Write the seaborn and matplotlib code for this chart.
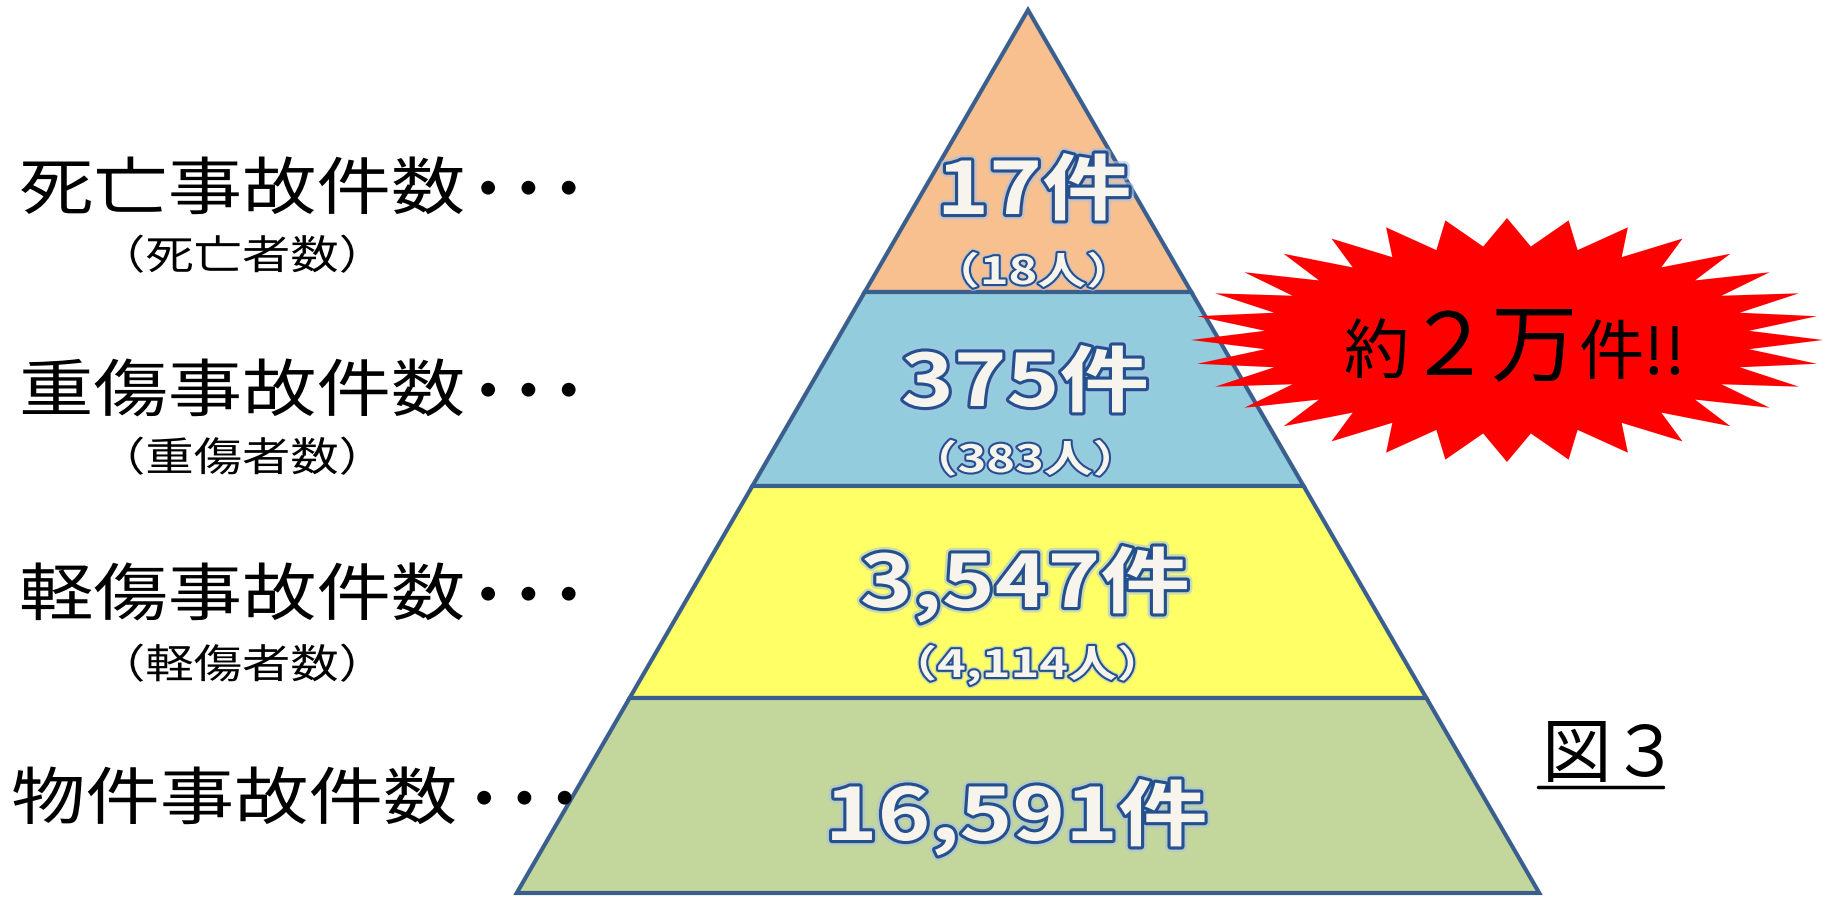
import matplotlib
matplotlib.use("Agg")
import matplotlib.pyplot as plt
import matplotlib.patheffects as pe
from matplotlib.patches import Polygon
from matplotlib.transforms import Affine2D
import seaborn as sns
import numpy as np

# データ
categories = ["死亡事故件数", "重傷事故件数", "軽傷事故件数", "物件事故件数"]
sub_labels = ["（死亡者数）", "（重傷者数）", "（軽傷者数）", None]
accident_counts = [17, 375, 3547, 16591]
person_counts = [18, 383, 4114, None]
tier_colors = ["#F9C08F", "#93CDDD", "#FFFF66", "#C3D69B"]

# レイアウト（ピクセル座標）
W, H = 1831, 897
apex = (1028, 10)
slope = 0.579
tier_bottoms = [292, 486, 698, 893]
label_x = [19, 19, 19, 11]
label_base = [209, 411, 615, 819]
dots_x = [468, 468, 468, 464]
sub_base = [269, 471, 678]
count_x = [1034, 1025, 1025, 1016]
count_base = [214, 406, 607, 840]
person_x = [1033, 1025, 1027]
person_base = [284, 472, 677]


class HStretch(pe.AbstractPathEffect):
    """横方向に引き伸ばして描く（元の画像は横長に伸びている）"""
    def __init__(self, inner, sx, x0):
        super().__init__()
        self.inner, self.sx, self.x0 = inner, sx, x0

    def draw_path(self, renderer, gc, tpath, affine, rgbFace=None):
        st = Affine2D().translate(-self.x0, 0).scale(self.sx, 1).translate(self.x0, 0)
        self.inner.draw_path(renderer, gc, tpath, affine + st, rgbFace)


def stretched(effects, sx, x0):
    return [HStretch(e, sx, x0) for e in effects]


def set_style():
    sns.set_theme(style="white")
    plt.rcParams['font.family'] = ['Noto Sans CJK JP', 'DejaVu Sans']


set_style()
fig = plt.figure(figsize=(W / 100, H / 100), dpi=100)
ax = fig.add_axes([0, 0, 1, 1])
ax.set_xlim(0, W)
ax.set_ylim(H, 0)
ax.axis("off")

# ピラミッド
top = apex[1]
for bottom, color in zip(tier_bottoms, tier_colors):
    hw_top = (top - apex[1]) * slope
    hw_bot = (bottom - apex[1]) * slope
    pts = [(apex[0] - hw_top, top), (apex[0] + hw_top, top),
           (apex[0] + hw_bot, bottom), (apex[0] - hw_bot, bottom)]
    ax.add_patch(Polygon(pts, closed=True, facecolor=color, edgecolor="#3A5F8E",
                         linewidth=3, joinstyle="miter", zorder=2))
    top = bottom

num_fx = [pe.Stroke(linewidth=8, foreground="#A9C3E4", alpha=0.6),
          pe.Stroke(linewidth=4.5, foreground="#24508F"), pe.Normal()]

for x, y, n in zip(count_x, count_base, accident_counts):
    ax.text(x, y, f"{n:,}件", ha="center", va="baseline", fontsize=52,
            fontweight="bold", color="#F6F4EC",
            path_effects=stretched(num_fx, 1.24, x), zorder=5)

sub_fx = [pe.Stroke(linewidth=5, foreground="#A9C3E4", alpha=0.6),
          pe.Stroke(linewidth=3, foreground="#24508F"), pe.Normal()]
for x, y, n in zip(person_x, person_base, person_counts):
    ax.text(x, y, f"（{n:,}人）", ha="center", va="baseline", fontsize=27,
            fontweight="bold", color="#F6F4EC",
            path_effects=stretched(sub_fx, 1.3, x), zorder=5)

# 左側のラベル
dot_fx = [pe.Stroke(linewidth=2.5, foreground="black"), pe.Normal()]
for i, label in enumerate(categories):
    ax.text(label_x[i], label_base[i], label, ha="left", va="baseline", fontsize=45,
            color="black", path_effects=stretched([pe.Normal()], 1.19, label_x[i]), zorder=5)
    ax.text(dots_x[i], label_base[i] - 6, "・・・", ha="left", va="baseline", fontsize=29,
            fontweight="bold", color="black", path_effects=dot_fx, zorder=5)
for i, label in enumerate(sub_labels):
    if label:
        ax.text(97, sub_base[i], label, ha="left", va="baseline", fontsize=29,
                color="black", path_effects=stretched([pe.Normal()], 1.2, 97), zorder=5)

# 爆発マーク
cx, cy = 1507, 340
a_out, b_out = 316, 122
n_spikes = 32
t = np.linspace(0, 2 * np.pi, 2 * n_spikes, endpoint=False)
r = np.where(np.arange(2 * n_spikes) % 2 == 0, 1.0, 0.77)
star = np.column_stack([cx + a_out * r * np.cos(t), cy + b_out * r * np.sin(t)])
ax.add_patch(Polygon(star, closed=True, facecolor="#FF0000", edgecolor="none", zorder=3))

base = 374
ax.text(1343, base, "約", ha="left", va="baseline", fontsize=47, color="black", zorder=6)
ax.text(1405, base, "２万", ha="left", va="baseline", fontsize=62, color="black", zorder=6)
ax.text(1579, base, "件!!", ha="left", va="baseline", fontsize=47, color="black", zorder=6)

# 図3
ax.text(1542, 776, "図３", ha="left", va="baseline", fontsize=50, color="black", zorder=6)
ax.plot([1538, 1663], [787, 787], color="black", linewidth=2.5, zorder=6)

fig.savefig("out.png", dpi=100, facecolor="white")
